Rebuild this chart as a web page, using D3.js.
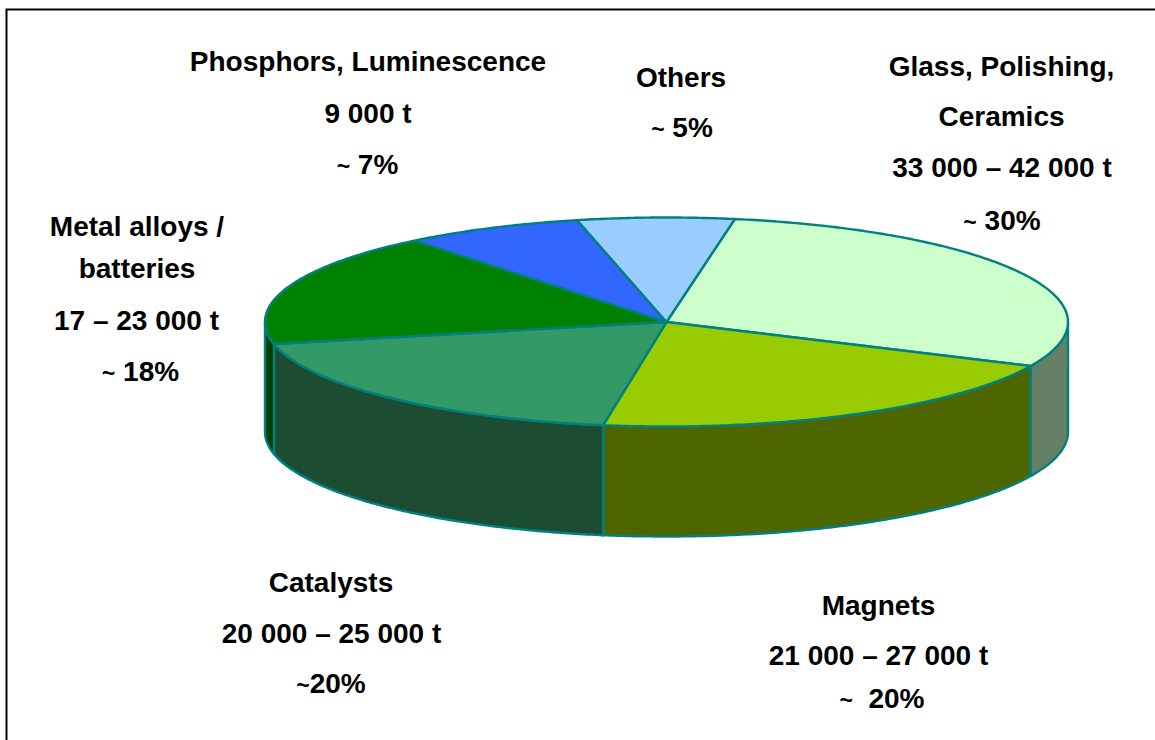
<!DOCTYPE html>
<html><head><meta charset="utf-8">
<script src="https://cdn.jsdelivr.net/npm/d3@7"></script>
<style>html,body{margin:0;padding:0;background:#fff}svg{display:block}</style>
</head><body><svg id="c" width="1155" height="740"></svg>
<script>
const categories = ["Glass, Polishing, Ceramics","Magnets","Catalysts","Metal alloys / batteries","Phosphors, Luminescence","Others"];
const shares = [29.2,20.6,19.1,17.6,7.2,6.3];
const labelLines = [
  ["Glass, Polishing,","Ceramics","33 000 – 42 000 t","~ 30%"],
  ["Magnets","21 000 – 27 000 t","~  20%"],
  ["Catalysts","20 000 – 25 000 t","~20%"],
  ["Metal alloys /","batteries","17 – 23 000 t","~ 18%"],
  ["Phosphors, Luminescence","9 000 t","~ 7%"],
  ["Others","~ 5%"]
];
const topColors = ["#CCFFCC","#99CC00","#339966","#008000","#3366FF","#99CCFF"];
const sideColors = ["#668066","#4D6600","#1C4D33","#004000","#1A3380","#4D6680"];

// layout
const labelAnchors = [
  [[1001.5,75.5],[1001.5,125.5],[1002,176.5],[1002,229.5]],
  [[878.5,614.5],[878.5,664.5],[882,707.5]],
  [[331,591.5],[331.5,642.5],[331,692.5]],
  [[137,235.5],[137,277.5],[136.5,329.5],[140.5,380.5]],
  [[368,70.5],[368,122.5],[367.5,173.5]],
  [[681,86.5],[682,136.5]]
];
const svg = d3.select("#c");
const cx=666.5, cy=322, rx=401.5, ry=104.5, depth=110, stroke="#008080";
const X=d3.scaleLinear().domain([-1,1]).range([cx-rx,cx+rx]);
const Y=d3.scaleLinear().domain([-1,1]).range([cy+ry,cy-ry]);
const start=9.8*Math.PI/180;
const arcs=d3.pie().sort(null).startAngle(start).endAngle(start+2*Math.PI)(shares);
const line=d3.line();
const pt=(t,dy=0)=>[X(Math.sin(t)),Y(Math.cos(t))+dy];
const samples=(a,b)=>{const n=Math.max(2,Math.ceil((b-a)/0.01));return d3.range(n+1).map(i=>a+(b-a)*i/n);};

// frame
svg.append("path").attr("d","M6.5,740V9.5H1155").attr("fill","none").attr("stroke","#000").attr("stroke-width",2);

// sides (front half only)
const sides=svg.append("g");
arcs.forEach((d,i)=>{
  for(const k of [0,2]){
    const a=Math.max(d.startAngle,Math.PI/2+k*Math.PI), b=Math.min(d.endAngle,3*Math.PI/2+k*Math.PI);
    if(b<=a) continue;
    const ts=samples(a,b);
    const p=[...ts.map(t=>pt(t)),...ts.slice().reverse().map(t=>pt(t,depth))];
    sides.append("path").attr("d",line(p)+"Z").attr("fill",sideColors[i]).attr("stroke",stroke).attr("stroke-width",2.4).attr("stroke-linejoin","round");
  }
});
// top
const tops=svg.append("g");
arcs.forEach((d,i)=>{
  const p=[[X(0),Y(0)],...samples(d.startAngle,d.endAngle).map(t=>pt(t))];
  tops.append("path").attr("d",line(p)+"Z").attr("fill",topColors[i]).attr("stroke",stroke).attr("stroke-width",2.4).attr("stroke-linejoin","round");
});
// labels
const tg=svg.append("g").attr("font-family","'Liberation Sans',Arial,sans-serif").attr("font-weight","700").attr("font-size",28).attr("fill","#000").attr("text-anchor","middle");
labelLines.forEach((lines,i)=>lines.forEach((s,j)=>{
  const t=tg.append("text").attr("x",labelAnchors[i][j][0]).attr("y",labelAnchors[i][j][1]);
  if(s[0]==="~"){
    t.append("tspan").attr("font-size",23).text("~");
    t.append("tspan").text(s.slice(1).replace(/^ +/,m=>"\u00a0".repeat(m.length)));
  } else t.text(s);
}));
</script></body></html>
